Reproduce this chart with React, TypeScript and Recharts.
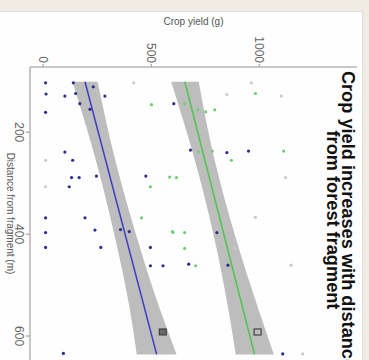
import React from "react";
import {
  ComposedChart,
  Area,
  Line,
  Scatter,
  XAxis,
  YAxis,
} from "recharts";

// distance from fragment (m), crop yield (g)
const bluePoints = [
  [103, 12], [103, 140], [111, 232], [125, 14], [129, 101], [124, 151],
  [129, 286], [144, 170], [155, 217], [161, 12], [144, 604], [239, 101],
  [255, 137], [289, 132], [289, 167], [286, 247], [286, 475], [307, 121],
  [368, 12], [368, 194], [397, 12], [392, 240], [391, 358], [395, 398],
  [426, 12], [426, 267], [426, 496], [462, 496], [462, 554], [634, 94],
  [235, 681], [240, 849], [237, 949], [397, 803], [459, 673], [461, 854],
  [635, 1107],
];
const greenPoints = [
  [146, 501], [288, 585], [289, 616], [307, 496], [368, 455], [395, 598],
  [144, 654], [156, 716], [160, 751], [156, 793], [239, 716], [237, 782],
  [255, 870], [237, 1111], [397, 600], [397, 654], [428, 654], [462, 705],
  [124, 981],
];
const paleGreenPoints = [
  [103, 419], [255, 12], [307, 12], [103, 962], [126, 849], [129, 1100],
  [289, 1120], [367, 981], [428, 885], [461, 1146], [635, 1199],
];

const fitDistance = [101, 636];
const blueFit = [194, 525];
const greenFit = [655, 977];

const bandDistance = [101, 250, 400, 550, 636];
const blueBand = [[136, 252], [241, 331], [329, 429], [402, 542], [433, 617]];
const greenBand = [[592, 719], [698, 790], [787, 885], [857, 997], [890, 1066]];

const groupDistance = 592;
const groupYield = [553, 991];

const distanceTicks = [200, 400, 600];
const yieldTicks = [0, 500, 1000];

const toPts = (arr: number[][]) => arr.map(([d, y]) => ({ d, y }));
const blueData = toPts(bluePoints);
const greenData = toPts(greenPoints);
const paleData = toPts(paleGreenPoints);
const blueLine = fitDistance.map((d, i) => ({ d, y: blueFit[i] }));
const greenLine = fitDistance.map((d, i) => ({ d, y: greenFit[i] }));
const blueBandData = bandDistance.map((d, i) => ({ d, band: blueBand[i] }));
const greenBandData = bandDistance.map((d, i) => ({ d, band: greenBand[i] }));
const markerData = [
  { d: groupDistance, y: groupYield[0], kind: "filled" },
  { d: groupDistance, y: groupYield[1], kind: "open" },
];

const dot = (color: string) => (p: any) => (
  <circle cx={p.cx} cy={p.cy} r={1.6} fill={color} />
);

const marker = (p: any) =>
  p.payload.kind === "filled" ? (
    <rect x={p.cx - 3} y={p.cy - 3.5} width={6} height={7} fill="#6a6a6a" stroke="#333" strokeWidth={1} />
  ) : (
    <rect x={p.cx - 3} y={p.cy - 3.5} width={6} height={7} fill="none" stroke="#444" strokeWidth={1.2} />
  );

const font = "'Liberation Sans', Arial, sans-serif";

const YTitle = (props: any) => {
  const vb = props.viewBox;
  const cx = vb.x + 9;
  const cy = vb.y + vb.height / 2;
  return (
    <text
      x={cx}
      y={cy}
      transform={`rotate(-90 ${cx} ${cy})`}
      textAnchor="middle"
      dominantBaseline="central"
      fontSize={10}
      fill="#555"
      fontFamily={font}
    >
      Crop yield (g)
    </text>
  );
};

const XTitle = (props: any) => {
  const vb = props.viewBox;
  return (
    <text
      x={vb.x + vb.width / 2}
      y={vb.y + vb.height - 10}
      textAnchor="middle"
      dominantBaseline="central"
      fontSize={10}
      fill="#555"
      fontFamily={font}
    >
      Distance from fragment (m)
    </text>
  );
};

export default function App() {
  return (
    <div
      style={{
        position: "fixed",
        left: 0,
        top: 0,
        width: 369,
        height: 360,
        background: "#f0ebe3",
        overflow: "hidden",
        fontFamily: font,
      }}
    >
      <div
        style={{
          position: "absolute",
          left: -1,
          top: 11,
          width: 364,
          height: 360,
          background: "#fefefe",
          border: "1px solid #e2ddd6",
          boxSizing: "border-box",
        }}
      />
      <div
        style={{
          position: "absolute",
          left: 362,
          top: 12,
          width: 348,
          height: 362,
          transformOrigin: "0 0",
          transform: "rotate(90deg)",
        }}
      >
        <ComposedChart
          width={348}
          height={362}
          margin={{ top: 5, right: 0, bottom: 0, left: 0 }}
        >
          <XAxis
            type="number"
            dataKey="d"
            domain={[72, 647]}
            ticks={distanceTicks}
            allowDataOverflow
            height={30}
            tickSize={4}
            tickMargin={2}
            stroke="#b4b4b4"
            strokeWidth={1.5}
            tick={{ fontSize: 12, fill: "#666", fontFamily: font }}
            label={<XTitle />}
          />
          <YAxis
            type="number"
            dataKey="y"
            domain={[-60, 1450]}
            ticks={yieldTicks}
            allowDataOverflow
            width={55}
            tickSize={3}
            tickMargin={1}
            stroke="#b4b4b4"
            strokeWidth={1.5}
            tick={{ fontSize: 12, fill: "#666", fontFamily: font }}
            label={<YTitle />}
          />
          <Area
            data={blueBandData}
            dataKey="band"
            type="monotone"
            stroke="none"
            fill="#bdbdbd"
            fillOpacity={1}
            isAnimationActive={false}
          />
          <Area
            data={greenBandData}
            dataKey="band"
            type="monotone"
            stroke="none"
            fill="#bdbdbd"
            fillOpacity={1}
            isAnimationActive={false}
          />
          <Line
            data={blueLine}
            dataKey="y"
            stroke="#3c3cc4"
            strokeWidth={1.5}
            dot={false}
            isAnimationActive={false}
          />
          <Line
            data={greenLine}
            dataKey="y"
            stroke="#4ec44e"
            strokeWidth={1.5}
            dot={false}
            isAnimationActive={false}
          />
          <Scatter data={paleData} dataKey="y" shape={dot("#c4cfc4")} isAnimationActive={false} />
          <Scatter data={greenData} dataKey="y" shape={dot("#6fd06f")} isAnimationActive={false} />
          <Scatter data={blueData} dataKey="y" shape={dot("#2c2c8c")} isAnimationActive={false} />
          <Scatter data={markerData} dataKey="y" shape={marker} isAnimationActive={false} />
        </ComposedChart>
        <div
          style={{
            position: "absolute",
            left: 8,
            top: 7,
            width: 400,
            textAlign: "center",
            whiteSpace: "nowrap",
            fontWeight: "bold",
            fontSize: 18.2,
            lineHeight: "15px",
            color: "#111",
          }}
        >
          Crop yield increases with distance
          <br />
          from forest fragment
        </div>
      </div>
    </div>
  );
}
